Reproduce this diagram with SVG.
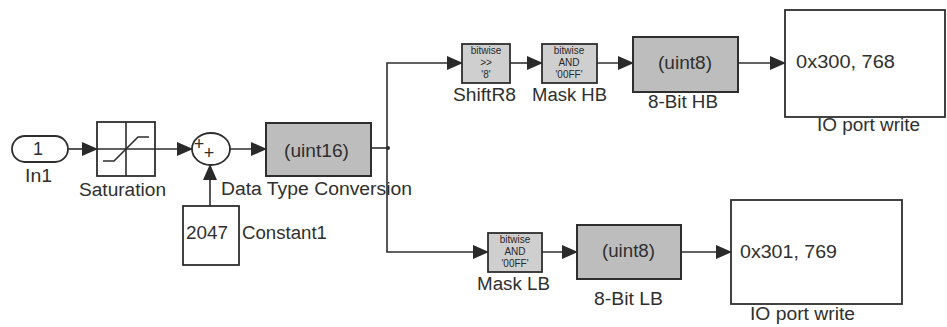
<svg xmlns="http://www.w3.org/2000/svg" width="947" height="327" viewBox="0 0 947 327">
<defs>
<marker id="ah" markerWidth="16" markerHeight="14" refX="15" refY="7" orient="auto" markerUnits="userSpaceOnUse">
<path d="M0,0 L16,7 L0,14 Z" fill="#2a2a2a"/>
</marker>
</defs>
<style>
.blk{fill:#fff;stroke:#2e2e2e;stroke-width:1.8}
.gray{fill:#bdbdbd;stroke:#2e2e2e;stroke-width:2}
.bw{fill:#cfcfcf;stroke:#2e2e2e;stroke-width:1.8}
.ln{fill:none;stroke:#2e2e2e;stroke-width:1.6}
.lbl{font-family:"Liberation Sans",Arial,sans-serif;font-size:18px;fill:#2f2f2f}
.in{font-family:"Liberation Sans",Arial,sans-serif;font-size:18px;fill:#2f2f2f}
.sm{font-family:"Liberation Sans",Arial,sans-serif;font-size:10px;fill:#2a2a2a}
</style>
<rect width="947" height="327" fill="#fff"/>
<g id="connectors">
<path class="ln" d="M68,149 L97,149" marker-end="url(#ah)"/>
<path class="ln" d="M155,149 L192,149" marker-end="url(#ah)"/>
<path class="ln" d="M230,149 L266,149" marker-end="url(#ah)"/>
<path class="ln" d="M210,206 L210,165" marker-end="url(#ah)"/>
<path class="ln" d="M371,148 L387,148"/>
<circle cx="388" cy="148" r="2" fill="#2e2e2e"/>
<path class="ln" d="M387,148 L387,63 L462,63" marker-end="url(#ah)"/>
<path class="ln" d="M387,148 L387,252 L488,252" marker-end="url(#ah)"/>
<path class="ln" d="M510,63 L542,63" marker-end="url(#ah)"/>
<path class="ln" d="M597,63 L633,63" marker-end="url(#ah)"/>
<path class="ln" d="M738,63 L785,63" marker-end="url(#ah)"/>
<path class="ln" d="M542,252 L577,252" marker-end="url(#ah)"/>
<path class="ln" d="M681,252 L731,252" marker-end="url(#ah)"/>
</g>
<g id="In1">
<rect class="blk" x="12" y="136" width="56" height="26" rx="13"/>
<text class="in" x="38" y="155" text-anchor="middle" font-size="15">1</text>
<text class="lbl" x="25" y="182" textLength="27" lengthAdjust="spacingAndGlyphs">In1</text>
</g>
<g id="Saturation">
<rect class="blk" x="97" y="122" width="58" height="54"/>
<path class="ln" stroke-width="1.2" d="M97,149 H155 M126,122 V176"/>
<path class="ln" stroke-width="1.2" d="M103,161 H114 L138,137 H149"/>
<text class="lbl" x="79" y="196" textLength="87" lengthAdjust="spacingAndGlyphs">Saturation</text>
</g>
<g id="Sum">
<ellipse class="blk" cx="211" cy="149" rx="19" ry="16"/>
<text class="in" x="199" y="150" text-anchor="middle" font-size="10">+</text>
<text class="in" x="209" y="159" text-anchor="middle" font-size="10">+</text>
</g>
<g id="Constant1">
<rect class="blk" x="183" y="206" width="56" height="59"/>
<text class="in" x="186" y="239" textLength="42" lengthAdjust="spacingAndGlyphs">2047</text>
<text class="lbl" x="242" y="239" textLength="85" lengthAdjust="spacingAndGlyphs">Constant1</text>
</g>
<g id="DataTypeConversion">
<rect class="gray" x="266" y="123" width="105" height="53"/>
<text class="in" x="284" y="157" textLength="65" lengthAdjust="spacingAndGlyphs">(uint16)</text>
<text class="lbl" x="221" y="195" textLength="191" lengthAdjust="spacingAndGlyphs">Data Type Conversion</text>
</g>
<g id="ShiftR8">
<rect class="bw" x="462" y="44" width="48" height="39"/>
<text class="sm" x="486" y="54" text-anchor="middle">bitwise</text>
<text class="sm" x="486" y="66" text-anchor="middle">&gt;&gt;</text>
<text class="sm" x="486" y="78" text-anchor="middle">'8'</text>
<text class="lbl" x="453" y="101" textLength="63" lengthAdjust="spacingAndGlyphs">ShiftR8</text>
</g>
<g id="MaskHB">
<rect class="bw" x="542" y="44" width="55" height="39"/>
<text class="sm" x="569" y="54" text-anchor="middle">bitwise</text>
<text class="sm" x="569" y="66" text-anchor="middle">AND</text>
<text class="sm" x="569" y="78" text-anchor="middle">'00FF'</text>
<text class="lbl" x="532" y="101" textLength="75" lengthAdjust="spacingAndGlyphs">Mask HB</text>
</g>
<g id="EightBitHB">
<rect class="gray" x="633" y="37" width="105" height="55"/>
<text class="in" x="658" y="69" textLength="54" lengthAdjust="spacingAndGlyphs">(uint8)</text>
<text class="lbl" x="648" y="108" textLength="70" lengthAdjust="spacingAndGlyphs">8-Bit HB</text>
</g>
<g id="IOPortWriteHB">
<rect class="blk" x="785" y="10" width="160" height="107"/>
<text class="in" x="796" y="68" textLength="99" lengthAdjust="spacingAndGlyphs">0x300, 768</text>
<text class="lbl" x="817" y="131" textLength="103" lengthAdjust="spacingAndGlyphs">IO port write</text>
</g>
<g id="MaskLB">
<rect class="bw" x="488" y="233" width="54" height="39"/>
<text class="sm" x="515" y="243" text-anchor="middle">bitwise</text>
<text class="sm" x="515" y="255" text-anchor="middle">AND</text>
<text class="sm" x="515" y="267" text-anchor="middle">'00FF'</text>
<text class="lbl" x="477" y="290" textLength="73" lengthAdjust="spacingAndGlyphs">Mask LB</text>
</g>
<g id="EightBitLB">
<rect class="gray" x="577" y="225" width="104" height="54"/>
<text class="in" x="602" y="257" textLength="53" lengthAdjust="spacingAndGlyphs">(uint8)</text>
<text class="lbl" x="594" y="305" textLength="69" lengthAdjust="spacingAndGlyphs">8-Bit LB</text>
</g>
<g id="IOPortWriteLB">
<rect class="blk" x="731" y="200" width="171" height="104"/>
<text class="in" x="740" y="258" textLength="97" lengthAdjust="spacingAndGlyphs">0x301, 769</text>
<text class="lbl" x="750" y="320" textLength="105" lengthAdjust="spacingAndGlyphs">IO port write</text>
</g>
</svg>
